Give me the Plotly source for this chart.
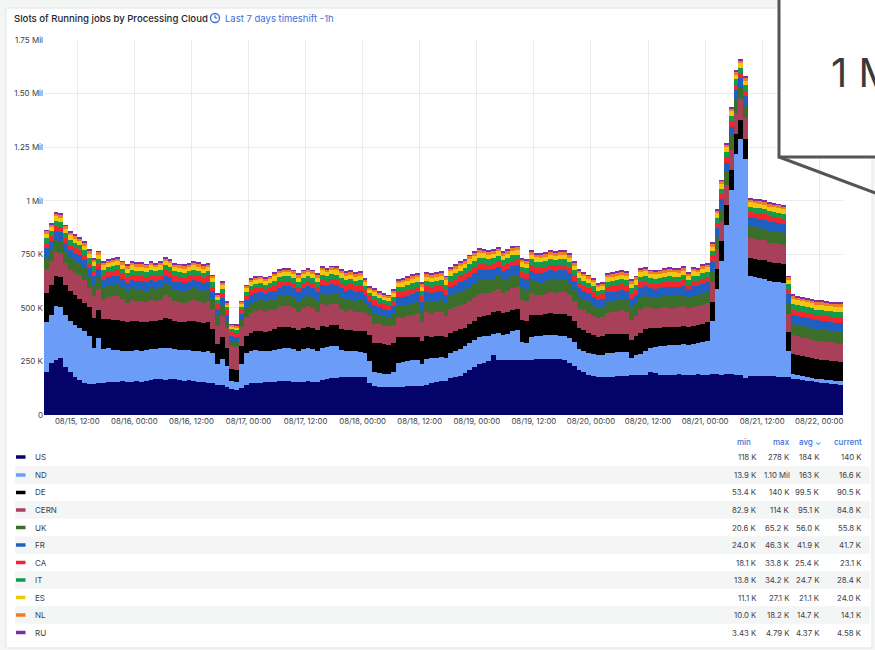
import pandas as pd
import plotly.graph_objects as go

# ---------------- data (values in thousands of slots, hourly) ----------------
start_time = "2023-08-15 05:30"

US = [202, 241, 256, 264, 225, 202, 179, 163, 148, 145,
      145, 151, 148, 154, 154, 155, 159, 155, 155, 159,
      155, 159, 163, 166, 166, 163, 166, 166, 163, 160,
      163, 159, 155, 155, 151, 148, 140, 140, 132, 122,
      118, 124, 140, 148, 151, 151, 155, 155, 155, 159,
      159, 160, 155, 155, 155, 159, 155, 155, 163, 168,
      171, 174, 176, 178, 179, 179, 178, 176, 150, 135,
      132, 130, 130, 132, 132, 133, 134, 134, 135, 135,
      138, 150, 155, 157, 160, 175, 179, 182, 194, 210,
      225, 240, 244, 250, 278, 258, 255, 255, 256, 258,
      258, 255, 258, 260, 262, 262, 262, 260, 260, 258,
      245, 230, 210, 200, 185, 180, 178, 178, 179, 179,
      180, 182, 184, 186, 186, 186, 188, 200, 198, 188,
      187, 189, 188, 190, 188, 187, 189, 190, 188, 188,
      190, 190, 188, 190, 192, 188, 186, 171, 182, 183,
      182, 181, 180, 180, 179, 178, 178, 170, 166, 163,
      160, 157, 154, 151, 148, 146, 143, 140]

ND = [233, 225, 252, 241, 241, 238, 241, 242, 242, 225,
      170, 209, 162, 158, 151, 150, 141, 143, 145, 143,
      145, 146, 145, 144, 146, 152, 146, 142, 142, 142,
      142, 141, 143, 141, 147, 142, 100, 120, 98, 38,
      37, 116, 150, 152, 151, 149, 143, 145, 150, 151,
      153, 152, 153, 145, 153, 153, 153, 145, 152, 150,
      149, 148, 129, 122, 121, 119, 118, 114, 100, 65,
      62, 62, 60, 68, 113, 116, 118, 121, 123, 105,
      124, 115, 113, 113, 106, 115, 121, 128, 126, 125,
      125, 125, 124, 120, 102, 127, 120, 125, 134, 139,
      82, 80, 107, 108, 108, 110, 113, 112, 110, 110,
      115, 110, 100, 100, 105, 105, 102, 104, 109, 111,
      112, 111, 111, 79, 94, 99, 112, 115, 120, 132,
      135, 136, 138, 138, 142, 138, 143, 145, 152, 157,
      249, 400, 530, 697, 858, 1031, 1100, 1025, 465, 459,
      457, 455, 446, 442, 441, 437, 120, 20, 19, 18,
      18, 17, 13.9, 17, 16.8, 16.7, 16.6, 16.6]

DE = [135, 140, 140, 140, 139, 138, 138, 135, 135, 135,
      140, 130, 140, 136, 137, 140, 138, 134, 140, 136,
      136, 130, 132, 127, 130, 140, 138, 132, 131, 130,
      133, 140, 138, 134, 137, 110, 90, 105, 85, 54,
      56, 80, 80, 85, 88, 92, 90, 90, 95, 100,
      100, 100, 97, 95, 97, 98, 97, 95, 100, 94,
      100, 98, 95, 95, 97, 95, 97, 100, 125, 138,
      140, 140, 138, 135, 120, 115, 112, 110, 108, 105,
      105, 100, 100, 98, 98, 95, 92, 90, 88, 88,
      90, 92, 95, 98, 100, 102, 100, 102, 100, 98,
      105, 105, 100, 98, 97, 98, 100, 100, 102, 103,
      102, 100, 98, 95, 92, 90, 85, 85, 88, 88,
      86, 85, 84, 85, 88, 100, 100, 92, 90, 88,
      88, 86, 86, 85, 86, 85, 85, 85, 86, 88,
      90, 92, 92, 93, 93, 93, 92, 93, 86, 86,
      86, 87, 87, 88, 88, 88, 90, 95, 94, 93,
      93, 92, 92, 91, 91, 91, 90.7, 90.5]

CERN = [112, 112, 112, 112, 105, 101, 106, 112, 107, 89,
        100, 99, 89, 102, 112, 112, 104, 92, 99, 96,
        98, 93, 99, 94, 97, 104, 100, 91, 92, 92,
        93, 99, 98, 94, 96, 93, 87, 97, 93, 109,
        108, 91, 86, 92, 95, 96, 94, 98, 88, 93,
        96, 96, 95, 87, 95, 98, 95, 87, 101, 96,
        99, 96, 94, 88, 91, 86, 90, 87, 89, 88,
        91, 85, 87, 86, 92, 88, 96, 103, 110, 87,
        112, 108, 111, 112, 99, 112, 112, 112, 112, 111,
        111, 109, 107, 102, 98, 103, 95, 96, 103, 101,
        94, 91, 104, 96, 92, 95, 99, 98, 101, 103,
        97, 90, 86, 93, 95, 86, 89, 90, 100, 101,
        105, 110, 104, 95, 95, 107, 104, 93, 89, 92,
        96, 90, 87, 93, 91, 89, 87, 88, 89, 89,
        90, 92, 94, 95, 96, 98, 96, 97, 93, 93,
        93, 92, 92, 92, 91, 91, 84, 88, 88, 87,
        87, 86, 86, 86, 85.5, 85, 85, 84.8]

UK = [57, 52, 60, 57, 52, 52, 52, 53, 52, 52,
      52, 52, 52, 52, 53, 54, 52, 52, 52, 52,
      52, 52, 52, 52, 52, 52, 52, 52, 52, 52,
      52, 52, 52, 52, 52, 47, 44, 47, 32, 20.6,
      20.6, 32, 44, 47, 47, 47, 47, 47, 52, 52,
      52, 52, 52, 52, 52, 52, 52, 52, 52, 52,
      52, 52, 55, 55, 55, 55, 55, 47, 38, 49,
      44, 44, 42, 49, 52, 55, 55, 55, 55, 55,
      55, 55, 55, 58, 55, 59, 61, 63, 64, 65,
      65, 65, 63, 61, 59, 59, 59, 59, 59, 59,
      59, 59, 61, 59, 59, 59, 59, 59, 59, 59,
      59, 55, 55, 52, 52, 52, 47, 47, 55, 55,
      55, 55, 55, 55, 55, 59, 55, 52, 52, 52,
      52, 55, 55, 52, 55, 49, 55, 52, 55, 55,
      55, 55, 59, 59, 61, 61, 55, 59, 55, 55,
      55, 55, 55, 55, 55, 55, 52, 55, 55, 55,
      55, 55, 55, 55, 55, 55, 55, 55.8]

FR = [40, 40, 40, 40, 40, 40, 40, 40, 40, 40,
      40, 40, 40, 40, 40, 40, 40, 40, 40, 40,
      40, 40, 40, 40, 40, 40, 40, 40, 40, 40,
      40, 40, 40, 40, 40, 37, 35, 37, 29, 24,
      24, 29, 35, 37, 37, 37, 37, 37, 40, 40,
      40, 40, 40, 40, 40, 40, 40, 40, 40, 40,
      40, 40, 42, 42, 42, 42, 42, 37, 32, 38,
      35, 35, 34, 38, 40, 42, 42, 42, 42, 42,
      42, 42, 42, 42, 42, 43, 44, 45, 46, 46,
      46, 46, 45, 44, 43, 43, 43, 43, 43, 43,
      43, 43, 44, 43, 43, 43, 43, 43, 43, 43,
      43, 42, 42, 40, 40, 40, 37, 37, 42, 42,
      42, 42, 42, 42, 42, 43, 42, 40, 40, 40,
      40, 42, 42, 40, 42, 38, 42, 40, 42, 42,
      42, 42, 43, 43, 44, 44, 42, 43, 42, 42,
      42, 42, 42, 42, 42, 42, 40, 41, 41, 41,
      41, 41, 41, 41, 41, 41, 41, 41.7]

CA = [24, 24, 24, 24, 24, 24, 24, 24, 24, 24,
      24, 24, 24, 24, 24, 24, 24, 24, 24, 24,
      24, 24, 24, 24, 24, 24, 24, 24, 24, 24,
      24, 24, 24, 24, 24, 22, 21, 22, 19, 18.1,
      18.1, 19, 21, 22, 22, 22, 22, 22, 24, 24,
      24, 24, 24, 24, 24, 24, 24, 24, 24, 24,
      24, 24, 25, 25, 25, 25, 25, 22, 20, 23,
      21, 21, 21, 23, 24, 25, 25, 25, 25, 25,
      25, 25, 25, 25, 25, 26, 26, 27, 28, 29,
      29, 29, 27, 26, 26, 26, 26, 26, 26, 26,
      26, 26, 26, 26, 26, 26, 26, 26, 26, 26,
      26, 25, 25, 24, 24, 24, 22, 22, 25, 25,
      25, 25, 25, 25, 25, 26, 25, 24, 24, 24,
      24, 25, 25, 24, 25, 23, 25, 24, 25, 25,
      25, 25, 26, 26, 26, 26, 25, 26, 25, 25,
      25, 25, 25, 25, 25, 25, 24, 23, 23, 23,
      23, 23, 23, 23, 23, 23, 23, 23.1]

IT = [23, 23, 23, 23, 23, 23, 23, 23, 23, 23,
      23, 23, 23, 23, 23, 23, 23, 23, 23, 23,
      23, 23, 23, 23, 23, 23, 23, 23, 23, 23,
      23, 23, 23, 23, 23, 21, 19, 21, 15, 13.8,
      13.8, 15, 19, 21, 21, 21, 21, 21, 23, 23,
      23, 23, 23, 23, 23, 23, 23, 23, 23, 23,
      23, 23, 24, 24, 24, 24, 24, 21, 17, 21,
      19, 19, 18, 21, 23, 24, 24, 24, 24, 24,
      24, 24, 24, 24, 24, 25, 26, 27, 27, 29,
      29, 29, 27, 26, 25, 25, 25, 25, 25, 25,
      25, 25, 26, 25, 25, 25, 25, 25, 25, 25,
      25, 24, 24, 23, 23, 23, 21, 21, 24, 24,
      24, 24, 24, 24, 24, 25, 24, 23, 23, 23,
      23, 24, 24, 23, 24, 21, 24, 23, 24, 24,
      24, 24, 25, 25, 26, 26, 24, 25, 24, 24,
      24, 24, 24, 24, 24, 24, 23, 27, 27, 27,
      27, 27, 27, 27, 27, 27, 27, 28.4]

ES = [20, 20, 20, 20, 20, 20, 20, 20, 20, 20,
      20, 20, 20, 20, 20, 20, 20, 20, 20, 20,
      20, 20, 20, 20, 20, 20, 20, 20, 20, 20,
      20, 20, 20, 20, 20, 18, 17, 18, 12, 11.1,
      11.1, 12, 17, 18, 18, 18, 18, 18, 20, 20,
      20, 20, 20, 20, 20, 20, 20, 20, 20, 20,
      20, 20, 21, 21, 21, 21, 21, 18, 14, 18,
      17, 17, 16, 18, 20, 21, 21, 21, 21, 21,
      21, 21, 21, 21, 21, 21, 21, 22, 22, 23,
      23, 23, 22, 21, 21, 21, 21, 21, 21, 21,
      21, 21, 21, 21, 21, 21, 21, 21, 21, 21,
      21, 21, 21, 20, 20, 20, 18, 18, 21, 21,
      21, 21, 21, 21, 21, 21, 21, 20, 20, 20,
      20, 21, 21, 20, 21, 18, 21, 20, 21, 21,
      21, 21, 21, 21, 21, 21, 21, 21, 21, 21,
      21, 21, 21, 21, 21, 21, 20, 23, 23, 23,
      23, 23, 23, 23, 23, 23, 23, 24.0]

NL = [13, 13, 13, 13, 13, 13, 13, 13, 13, 13,
      13, 13, 13, 13, 13, 13, 13, 13, 13, 13,
      13, 13, 13, 13, 13, 13, 13, 13, 13, 13,
      13, 13, 13, 13, 13, 11, 10, 11, 10, 10,
      10, 10, 10, 11, 11, 11, 11, 11, 13, 13,
      13, 13, 13, 13, 13, 13, 13, 13, 13, 13,
      13, 13, 14, 14, 14, 14, 14, 11, 10, 12,
      10, 10, 10, 12, 13, 14, 14, 14, 14, 14,
      14, 14, 14, 14, 14, 14, 14, 15, 15, 16,
      16, 16, 15, 14, 14, 14, 14, 14, 14, 14,
      14, 14, 14, 14, 14, 14, 14, 14, 14, 14,
      14, 14, 14, 13, 13, 13, 11, 11, 14, 14,
      14, 14, 14, 14, 14, 14, 14, 13, 13, 13,
      13, 14, 14, 13, 14, 12, 14, 13, 14, 14,
      14, 14, 14, 14, 14, 14, 14, 14, 14, 14,
      14, 14, 14, 14, 14, 14, 13, 14, 14, 14,
      14, 14, 14, 14, 14, 14, 14, 14.1]

RU = [4.3, 4.3, 4.3, 4.3, 4.3, 4.3, 4.3, 4.3, 4.3, 4.3,
      4.3, 4.3, 4.3, 4.3, 4.3, 4.3, 4.3, 4.3, 4.3, 4.3,
      4.3, 4.3, 4.3, 4.3, 4.3, 4.3, 4.3, 4.3, 4.3, 4.3,
      4.3, 4.3, 4.3, 4.3, 4.3, 4.2, 4.0, 4.2, 3.6, 3.43,
      3.43, 3.6, 4.0, 4.2, 4.2, 4.2, 4.2, 4.2, 4.3, 4.3,
      4.3, 4.3, 4.3, 4.3, 4.3, 4.3, 4.3, 4.3, 4.3, 4.3,
      4.3, 4.3, 4.4, 4.4, 4.4, 4.4, 4.4, 4.2, 3.8, 4.2,
      4.0, 4.0, 4.0, 4.2, 4.3, 4.4, 4.4, 4.4, 4.4, 4.4,
      4.4, 4.4, 4.4, 4.4, 4.4, 4.4, 4.4, 4.5, 4.5, 4.5,
      4.5, 4.5, 4.5, 4.4, 4.4, 4.4, 4.4, 4.4, 4.4, 4.4,
      4.4, 4.4, 4.4, 4.4, 4.4, 4.4, 4.4, 4.4, 4.4, 4.4,
      4.4, 4.4, 4.4, 4.3, 4.3, 4.3, 4.2, 4.2, 4.4, 4.4,
      4.4, 4.4, 4.4, 4.4, 4.4, 4.4, 4.4, 4.3, 4.3, 4.3,
      4.3, 4.4, 4.4, 4.3, 4.4, 4.2, 4.4, 4.3, 4.4, 4.4,
      4.4, 4.4, 4.4, 4.4, 4.4, 4.4, 4.4, 4.4, 4.4, 4.4,
      4.4, 4.4, 4.4, 4.4, 4.4, 4.4, 4.3, 4.5, 4.5, 4.5,
      4.5, 4.5, 4.5, 4.5, 4.5, 4.5, 4.5, 4.58]

series_names = ["US", "ND", "DE", "CERN", "UK", "FR", "CA", "IT", "ES", "NL", "RU"]
series_values = [US, ND, DE, CERN, UK, FR, CA, IT, ES, NL, RU]
series_colors = ["#03036a", "#6b9cf8", "#000000", "#a9405a", "#3b6e2a", "#1f5fbf",
                 "#f2262e", "#159a4c", "#f2c80f", "#ef7a2a", "#7a2ea8"]

stat_min = ["118 K", "13.9 K", "53.4 K", "82.9 K", "20.6 K", "24.0 K", "18.1 K", "13.8 K", "11.1 K", "10.0 K", "3.43 K"]
stat_max = ["278 K", "1.10 Mil", "140 K", "114 K", "65.2 K", "46.3 K", "33.8 K", "34.2 K", "27.1 K", "18.2 K", "4.79 K"]
stat_avg = ["184 K", "163 K", "99.5 K", "95.1 K", "56.0 K", "41.9 K", "25.4 K", "24.7 K", "21.1 K", "14.7 K", "4.37 K"]
stat_cur = ["140 K", "16.6 K", "90.5 K", "84.8 K", "55.8 K", "41.7 K", "23.1 K", "28.4 K", "24.0 K", "14.1 K", "4.58 K"]

y_tickvals = [0, 250000, 500000, 750000, 1000000, 1250000, 1500000, 1750000]
y_ticktext = ["0", "250 K", "500 K", "750 K", "1 Mil", "1.25 Mil", "1.50 Mil", "1.75 Mil"]

# ---------------- figure ----------------
W, H = 875, 650
L, R, T, B = 44, 843, 40, 415
times = pd.date_range(start_time, periods=len(US), freq="h")

def px(x):
    return (x - L) / (R - L)

def py(y):
    return (B - y) / (B - T)

FONT = "Inter, Roboto, 'Open Sans', sans-serif"
TEXT = "#3d4148"
BLUE = "#3b6fd8"

fig = go.Figure()
for name, vals, col in zip(series_names, series_values, series_colors):
    fig.add_trace(go.Bar(
        x=times, y=[v * 1000 for v in vals], name=name,
        width=3600000, marker=dict(color=col, line=dict(width=0)),
        hoverinfo="skip", showlegend=False))

shapes = []
# panel
shapes.append(dict(type="rect", xref="paper", yref="paper", layer="below",
                   x0=px(6), x1=px(872), y0=py(8), y1=py(648),
                   fillcolor="white", line=dict(color="#e2e3e6", width=1)))
# zebra rows of the legend table + colour keys
row_y = [457, 475, 492.5, 510, 527.5, 545, 562.5, 580, 597.5, 615, 632.5]
for i, yc in enumerate(row_y):
    if i % 2 == 1:
        shapes.append(dict(type="rect", xref="paper", yref="paper", layer="below",
                           x0=px(15), x1=px(870), y0=py(yc - 8.7), y1=py(yc + 8.7),
                           fillcolor="#f4f5f5", line=dict(width=0)))
    shapes.append(dict(type="line", xref="paper", yref="paper",
                       x0=px(16), x1=px(25.5), y0=py(yc), y1=py(yc),
                       line=dict(color=series_colors[i], width=3.5)))
# clock icon
shapes.append(dict(type="circle", xref="paper", yref="paper",
                   x0=px(210.5), x1=px(219.5), y0=py(13.5), y1=py(22.5),
                   line=dict(color=BLUE, width=1.3)))
shapes.append(dict(type="line", xref="paper", yref="paper",
                   x0=px(215), x1=px(215), y0=py(18), y1=py(15.2),
                   line=dict(color=BLUE, width=1.2)))
shapes.append(dict(type="line", xref="paper", yref="paper",
                   x0=px(215), x1=px(217.3), y0=py(18), y1=py(18),
                   line=dict(color=BLUE, width=1.2)))
# callout box
shapes.append(dict(type="rect", xref="paper", yref="paper", layer="above",
                   x0=px(779), x1=px(910), y0=py(-10), y1=py(157),
                   fillcolor="white", line=dict(color="#555555", width=3)))
shapes.append(dict(type="line", xref="paper", yref="paper", layer="above",
                   x0=px(779), x1=px(910), y0=py(157), y1=py(206),
                   line=dict(color="#555555", width=3)))

ann = []
ann.append(dict(x=px(12), y=py(18), xref="paper", yref="paper", xanchor="left", yanchor="middle",
                text="Slots of Running jobs by Processing Cloud", showarrow=False,
                font=dict(family=FONT, size=9.6, color="#24272c", weight=500)))
ann.append(dict(x=px(223), y=py(18), xref="paper", yref="paper", xanchor="left", yanchor="middle",
                text="Last 7 days timeshift -1h", showarrow=False,
                font=dict(family=FONT, size=9.5, color=BLUE)))
# table header
for txt, xr in zip(["min", "max", "avg \u2304", "current"], [753, 792, 823, 864]):
    ann.append(dict(x=px(xr), y=py(442), xref="paper", yref="paper", xanchor="right", yanchor="middle",
                    text=txt, showarrow=False, font=dict(family=FONT, size=8, color=BLUE, weight=500)))
# table rows
for i, yc in enumerate(row_y):
    ann.append(dict(x=px(32.5), y=py(yc), xref="paper", yref="paper", xanchor="left", yanchor="middle",
                    text=series_names[i], showarrow=False, font=dict(family=FONT, size=8, color=TEXT)))
    for col, xr in zip([stat_min, stat_max, stat_avg, stat_cur], [759, 792, 822, 864]):
        ann.append(dict(x=px(xr), y=py(yc), xref="paper", yref="paper", xanchor="right", yanchor="middle",
                        text=col[i], showarrow=False, font=dict(family=FONT, size=7.8, color=TEXT)))
# callout text
ann.append(dict(x=px(829), y=py(72), xref="paper", yref="paper", xanchor="left", yanchor="middle",
                text="1 Mil", showarrow=False, font=dict(family=FONT, size=40, color="#3a3a3a")))

fig.update_layout(
    width=W, height=H,
    margin=dict(l=L, r=W - R, t=T, b=H - B, pad=0, autoexpand=False),
    paper_bgcolor="#f4f5f5", plot_bgcolor="white",
    barmode="stack", bargap=0, bargroupgap=0,
    shapes=shapes, annotations=ann,
    font=dict(family=FONT, size=10, color=TEXT),
    xaxis=dict(type="date", range=["2023-08-15 05:00", "2023-08-22 05:00"],
               tick0="2023-08-15 00:00", dtick=43200000, tickformat="%m/%d, %H:%M",
               tickangle=0, automargin=False,
               showgrid=True, gridcolor="#ebebec", gridwidth=1, zeroline=False,
               showline=False, ticks="", tickfont=dict(size=7.8, color=TEXT), fixedrange=True),
    yaxis=dict(range=[0, 1750000], tickvals=y_tickvals, ticktext=y_ticktext, automargin=False,
               showgrid=True, gridcolor="#ebebec", gridwidth=1, zeroline=False,
               showline=False, ticks="", tickfont=dict(size=8, color=TEXT), fixedrange=True),
)

fig.write_html("out.html", config={"displayModeBar": False},
               post_script="document.body.style.margin='0';document.body.style.overflow='hidden';")
